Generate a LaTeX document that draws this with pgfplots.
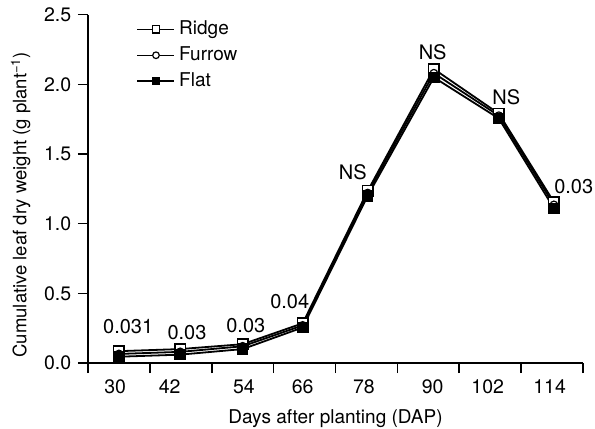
\documentclass[border=0pt]{standalone}
\usepackage{pgfplots}
\pgfplotsset{compat=1.18}
\usepackage{fontspec}
\setmainfont{TeX Gyre Heros}
\begin{document}
\fontsize{20}{23}\selectfont
\begin{tikzpicture}
\begin{axis}[
  name=ax,
  scale only axis,
  width=495pt, height=348.3pt,
  xmin=0, xmax=8, ymin=0, ymax=2.5,
  axis x line*=bottom, axis y line*=left,
  axis line style={line width=1.6pt, -},
  every tick/.style={line width=1.6pt, black},
  tick align=outside,
  major tick length=10pt,
  xtick={0,1,2,3,4,5,6,7,8},
  xticklabels={},
  extra x ticks={0.44,1.32,2.52,3.47,4.46,5.57,6.46,7.46},
  extra x tick labels={30,42,54,66,78,90,102,114},
  extra x tick style={major tick length=0pt, tick label style={yshift=-10pt}},
  ytick={0,0.5,1,1.5,2,2.5},
  yticklabel style={/pgf/number format/.cd, fixed, fixed zerofill, precision=1},
  /pgf/number format/assume math mode=true,
  ticklabel style={font=\fontsize{19.5}{23}\selectfont},
  xlabel={Days after planting (DAP)},
  ylabel={Cumulative leaf dry weight (g plant\textsuperscript{−1})},
  xlabel style={font=\fontsize{19}{22}\selectfont, yshift=8pt},
  ylabel style={font=\fontsize{18.5}{22}\selectfont, xshift=-16pt},
  clip=false,
  legend style={draw=none, fill=none, at={(rel axis cs:0.092,0.994)}, anchor=north west,
    font=\fontsize{19}{22}\selectfont, row sep=5pt, column sep=2pt,
    legend cell align=left},
  legend image code/.code={
    \draw[#1, mark=none] (0pt,0pt) -- (37pt,0pt);
    \draw[#1, only marks] plot coordinates {(18.5pt,0pt)};
  },
]
\addlegendimage{black, line width=1.5pt, mark=square*, mark options={fill=white, line width=1.2pt}, mark size=3.6pt}
\addlegendentry{Ridge}
\addlegendimage{black, line width=1.5pt, mark=*, mark options={fill=white, line width=1.2pt}, mark size=3.3pt}
\addlegendentry{Furrow}
\addlegendimage{black, line width=1.5pt, mark=square*, mark options={fill=black, line width=1.2pt}, mark size=3.6pt}
\addlegendentry{Flat}
\addplot[forget plot, black, line width=1.8pt, mark=square*, mark options={fill=white, line width=1.4pt}, mark size=5.2pt]
  coordinates {(0.50,0.085)(1.49,0.10)(2.50,0.135)(3.47,0.285)(4.52,1.235)(5.59,2.11)(6.64,1.79)(7.53,1.155)};
\addplot[forget plot, black, line width=1.8pt, mark=*, mark options={fill=white, line width=1.2pt}, mark size=3.8pt]
  coordinates {(0.50,0.065)(1.49,0.08)(2.50,0.12)(3.47,0.27)(4.52,1.22)(5.59,2.08)(6.64,1.775)(7.53,1.135)};
\addplot[forget plot, black, line width=1.8pt, mark=square*, mark options={fill=black, line width=1.2pt}, mark size=5.2pt]
  coordinates {(0.50,0.045)(1.49,0.06)(2.50,0.10)(3.47,0.255)(4.52,1.20)(5.59,2.05)(6.64,1.755)(7.53,1.11)};
\node at (axis cs:0.65,0.26) {0.031};
\node at (axis cs:1.60,0.22) {0.03};
\node at (axis cs:2.55,0.27) {0.03};
\node at (axis cs:3.26,0.44) {0.04};
\node at (axis cs:4.28,1.37) {NS};
\node at (axis cs:5.57,2.23) {NS};
\node at (axis cs:6.76,1.91) {NS};
\node at (axis cs:7.85,1.27) {0.03};
\coordinate (bl) at (rel axis cs:0,0);
\coordinate (tr) at (rel axis cs:1,1);
\end{axis}
\pgfresetboundingbox
\path[use as bounding box] ([shift={(-88pt,-65pt)}]bl) rectangle ([shift={(12pt,14.7pt)}]tr);
\end{tikzpicture}
\end{document}
